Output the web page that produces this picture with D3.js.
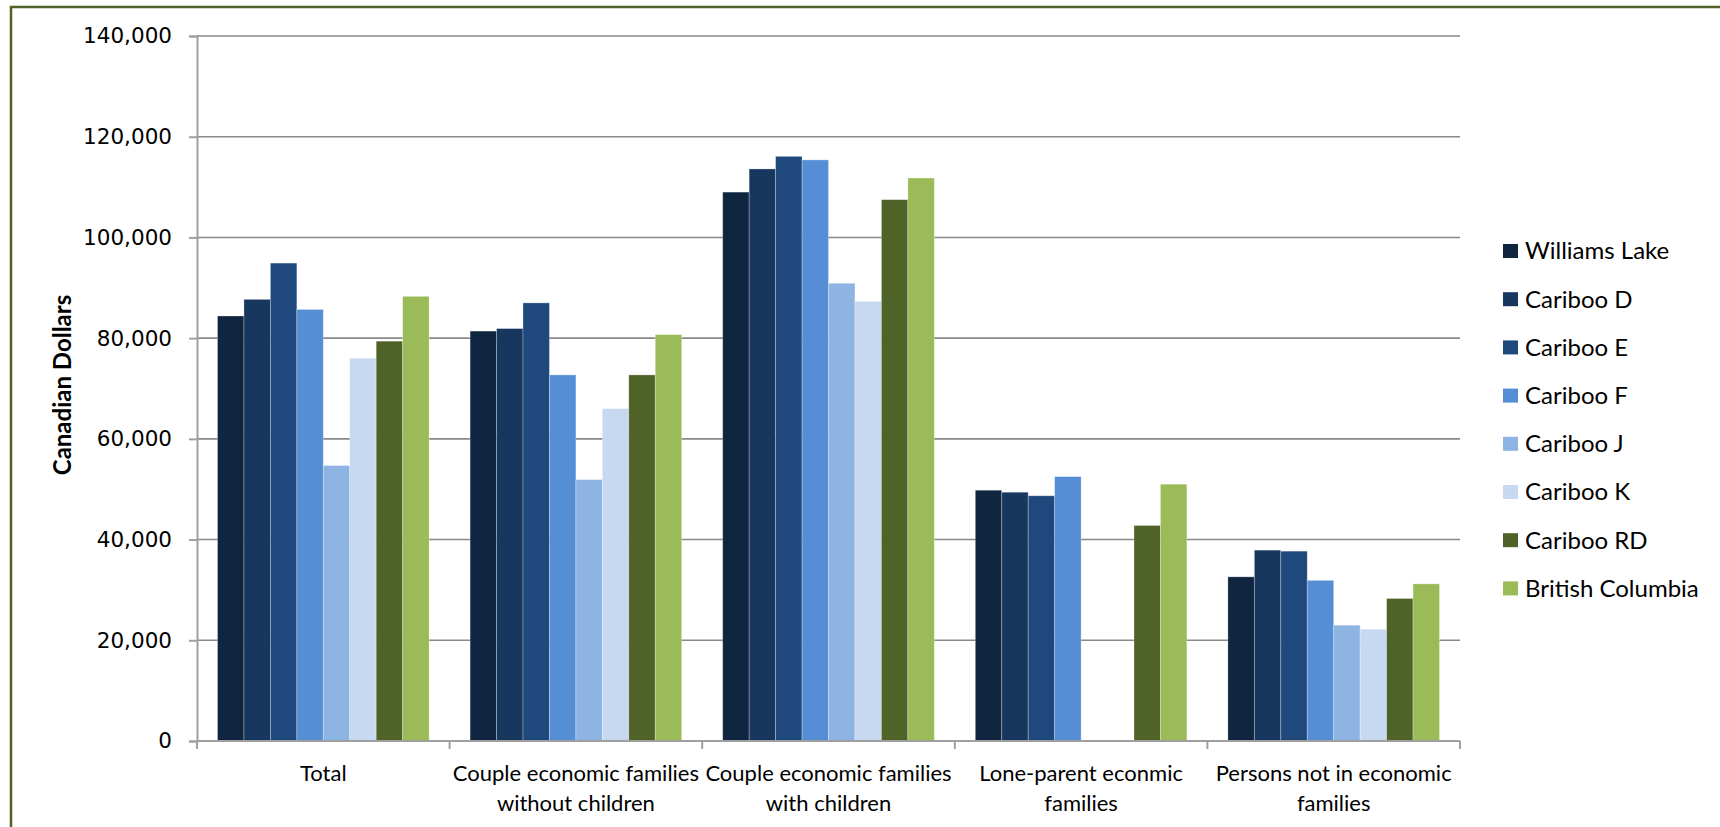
<!DOCTYPE html>
<html>
<head>
<meta charset="utf-8">
<script src="https://cdn.jsdelivr.net/npm/d3@7"></script>
<style>
  html, body { margin: 0; padding: 0; background: #fff; }
  svg { display: block; }
</style>
</head>
<body>
<svg width="1720" height="827"></svg>
<script>

  // DATA

  var categories = [
    "Total",
    "Couple economic families\nwithout children",
    "Couple economic families\nwith children",
    "Lone-parent econmic\nfamilies",
    "Persons not in economic\nfamilies"
  ];

  var seriesNames = ["Williams Lake", "Cariboo D", "Cariboo E", "Cariboo F",
    "Cariboo J", "Cariboo K", "Cariboo RD", "British Columbia"];

  var seriesColors = ["#10253f", "#17375e", "#1f497d", "#558ed5",
    "#8eb4e3", "#c6d9f1", "#4f6228", "#9bbb59"];

  // one array per series, in category order (null = no bar)
  var williamsLake = [84400, 81400, 109000, 49800, 32600];
  var caribooD = [87700, 81900, 113600, 49400, 37900];
  var caribooE = [94900, 87000, 116100, 48700, 37700];
  var caribooF = [85700, 72700, 115400, 52500, 31900];
  var caribooJ = [54700, 51900, 90900, null, 23000];
  var caribooK = [76000, 66000, 87300, null, 22200];
  var caribooRD = [79400, 72700, 107500, 42800, 28300];
  var britishColumbia = [88300, 80700, 111800, 51000, 31200];

  var yTicks = [0, 20000, 40000, 60000, 80000, 100000, 120000, 140000];

  var seriesValues = [williamsLake, caribooD, caribooE, caribooF,
    caribooJ, caribooK, caribooRD, britishColumbia];

  // SETUP

  var svg = d3.select("svg"),
    margin = { top: 36, right: 260, bottom: 86, left: 197 },
    width = 1720 - margin.left - margin.right,
    height = 827 - margin.top - margin.bottom;

  var labelFont = "Lato, 'Open Sans', sans-serif";

  // outer frame (only its top and left edges fall inside the picture)
  svg.append("rect")
    .attr("x", 11)
    .attr("y", 7)
    .attr("width", 1760)
    .attr("height", 900)
    .attr("fill", "none")
    .attr("stroke", "#4f6228")
    .attr("stroke-width", 2.5);

  var x0 = d3.scaleBand()
    .domain(categories)
    .range([0, width])
    .paddingInner(0)
    .paddingOuter(0);

  var x1 = d3.scaleBand()
    .domain(seriesNames)
    .range([0, x0.bandwidth()])
    .paddingInner(0)
    .paddingOuter(0.775);

  var y = d3.scaleLinear()
    .domain([0, 140000])
    .range([height, 0]);

  var color = d3.scaleOrdinal()
    .domain(seriesNames)
    .range(seriesColors);

  var g = svg.append("g")
    .attr("transform", "translate(" + margin.left + "," + margin.top + ")");

  // GRIDLINES

  g.append("g")
    .attr("class", "grid")
    .selectAll("line")
    .data(yTicks.filter(function (d) { return d > 0; }))
    .enter().append("line")
    .attr("x1", 0)
    .attr("x2", width)
    .attr("y1", function (d) { return y(d); })
    .attr("y2", function (d) { return y(d); })
    .attr("stroke", "#898989")
    .attr("stroke-width", 1.6);

  // BARS

  var rows = categories.map(function (c, i) {
    return {
      category: c,
      values: seriesNames.map(function (s, j) {
        return { series: s, value: seriesValues[j][i] };
      })
    };
  });

  var groups = g.selectAll(".group")
    .data(rows)
    .enter().append("g")
    .attr("class", "group")
    .attr("transform", function (d) { return "translate(" + x0(d.category) + ",0)"; });

  groups.selectAll("rect")
    .data(function (d) { return d.values.filter(function (v) { return v.value != null; }); })
    .enter().append("rect")
    .attr("x", function (d) { return x1(d.series); })
    .attr("y", function (d) { return y(d.value); })
    .attr("width", x1.bandwidth())
    .attr("height", function (d) { return height - y(d.value); })
    .attr("fill", function (d) { return color(d.series); })
    .attr("stroke", "#ffffff")
    .attr("stroke-opacity", 0.35)
    .attr("stroke-width", 0.8);

  // AXES

  var yAxis = g.append("g")
    .attr("class", "axis axis--y")
    .call(d3.axisLeft(y).tickValues(yTicks).tickSize(8).tickPadding(17)
      .tickFormat(d3.format(",")));

  yAxis.select(".domain").attr("stroke", "#a0a0a0").attr("stroke-width", 2);
  yAxis.selectAll(".tick line").attr("stroke", "#a0a0a0").attr("stroke-width", 2);
  yAxis.selectAll(".tick text")
    .attr("fill", "#000")
    .style("font-family", "'DejaVu Sans', sans-serif")
    .style("font-size", "21.5px");

  var xAxis = g.append("g")
    .attr("class", "axis axis--x")
    .attr("transform", "translate(0," + height + ")");

  xAxis.append("line")
    .attr("x1", 0)
    .attr("x2", width)
    .attr("stroke", "#a0a0a0")
    .attr("stroke-width", 2);

  xAxis.selectAll(".cat-tick")
    .data(categories.map(function (c) { return x0(c); }).concat([width]))
    .enter().append("line")
    .attr("class", "cat-tick")
    .attr("x1", function (d) { return d; })
    .attr("x2", function (d) { return d; })
    .attr("y1", 0)
    .attr("y2", 8)
    .attr("stroke", "#a0a0a0")
    .attr("stroke-width", 2);

  var catLabels = xAxis.selectAll(".cat-label")
    .data(categories)
    .enter().append("text")
    .attr("class", "cat-label")
    .attr("x", function (d) { return x0(d) + x0.bandwidth() / 2; })
    .attr("y", 40)
    .attr("text-anchor", "middle")
    .attr("fill", "#000")
    .style("font-family", labelFont)
    .style("font-size", "22px");

  catLabels.selectAll("tspan")
    .data(function (d) { return d.split("\n"); })
    .enter().append("tspan")
    .attr("x", function () { var p = d3.select(this.parentNode).datum(); return x0(p) + x0.bandwidth() / 2; })
    .attr("dy", function (d, i) { return i === 0 ? 0 : 30; })
    .text(function (d) { return d; });

  // axis title
  svg.append("text")
    .attr("transform", "translate(71,385) rotate(-90)")
    .attr("text-anchor", "middle")
    .attr("fill", "#000")
    .style("font-family", labelFont)
    .style("font-weight", "bold")
    .style("font-size", "24px")
    .text("Canadian Dollars");

  // LEGEND

  var legend = svg.append("g")
    .attr("transform", "translate(1503,251)");

  var items = legend.selectAll(".item")
    .data(seriesNames)
    .enter().append("g")
    .attr("class", "item")
    .attr("transform", function (d, i) { return "translate(0," + (i * 48.2) + ")"; });

  items.append("rect")
    .attr("x", 0)
    .attr("y", -7)
    .attr("width", 15)
    .attr("height", 14)
    .attr("fill", function (d) { return color(d); });

  items.append("text")
    .attr("x", 22)
    .attr("y", 0)
    .attr("dy", "0.35em")
    .attr("fill", "#000")
    .style("font-family", labelFont)
    .style("font-size", "24px")
    .text(function (d) { return d; });

</script>
</body>
</html>
